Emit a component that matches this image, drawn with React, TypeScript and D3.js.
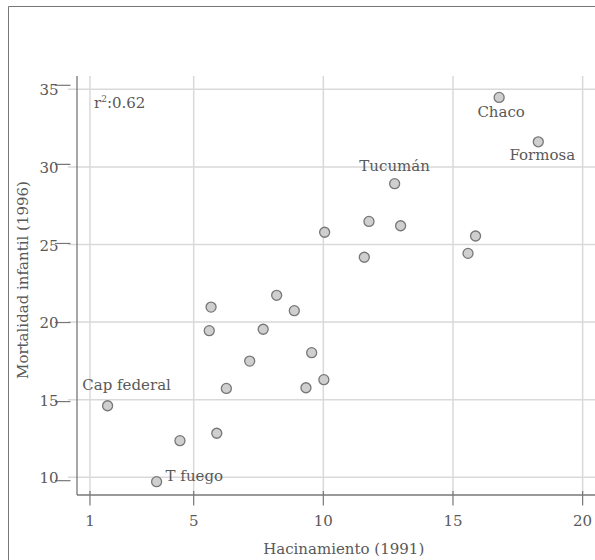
import React from "react";
import * as d3 from "d3";

// Data: Hacinamiento (1991) vs Mortalidad infantil (1996), Argentine provinces
const hacinamiento = [16.78, 18.29, 12.75, 11.76, 12.98, 10.05, 11.58, 8.2, 5.67, 8.88, 5.6, 7.68, 9.55, 7.16, 10.02, 9.33, 6.26, 5.89, 4.47, 1.68, 3.57, 15.87, 15.58];
const mortalidad = [34.48, 31.62, 28.92, 26.49, 26.21, 25.79, 24.18, 21.73, 20.97, 20.74, 19.45, 19.54, 18.03, 17.49, 16.29, 15.77, 15.73, 12.84, 12.36, 14.61, 9.72, 25.55, 24.43];
const provincias = ["Chaco", "Formosa", "Tucumán", "", "", "", "", "", "", "", "", "", "", "", "", "", "", "", "", "Cap federal", "T fuego", "", ""];
const xTicks = [1, 5, 10, 15, 20];
const yTicks = [10, 15, 20, 25, 30, 35];
const r2Label = "0.62";
const xTitle = "Hacinamiento (1991)";
const yTitle = "Mortalidad infantil (1996)";

// label placement (layout, not data)
const labelPlacement: Record<string, { dx: number; dy: number; anchor: string }> = {
  Chaco: { dx: 2, dy: 20, anchor: "middle" },
  Formosa: { dx: 4, dy: 18, anchor: "middle" },
  "Tucumán": { dx: 0, dy: -13, anchor: "middle" },
  "Cap federal": { dx: 19, dy: -16, anchor: "middle" },
  "T fuego": { dx: 9, dy: -1, anchor: "start" },
};

const FONT = "'DejaVu Serif', serif";
const TEXT = "#595959";
const AXIS = "#777";
const GRID = "#d9d9d9";

export default function App() {
  const x = d3.scaleLinear().domain([0.5, 20.5]).range([77, 595.6]);
  const y = d3.scaleLinear().domain([8.86, 35.86]).range([495, 76]);
  const yTickMark = d3.scaleLinear().domain(y.domain()).range([498.7, 71.7]);
  const [x0, x1] = x.range();
  const [yb, yt] = y.range();

  const points = hacinamiento.map((h, i) => ({ h, m: mortalidad[i], name: provincias[i] }));

  return (
    <div style={{ position: "absolute", left: 0, top: 0, width: 595, height: 560, overflow: "hidden" }}>
      <svg width={595} height={560} style={{ display: "block", fontFamily: FONT }}>
        <rect x={0} y={0} width={595} height={560} fill="#fff" />
        <path d={`M8.5,600 V6.5 H640`} fill="none" stroke={AXIS} strokeWidth={1} />
        {/* gridlines */}
        {xTicks.map((t) => (
          <line key={"gx" + t} x1={x(t)} x2={x(t)} y1={yt} y2={yb - 1} stroke={GRID} strokeWidth={1.5} />
        ))}
        {yTicks.map((t) => (
          <line key={"gy" + t} x1={68} x2={x1} y1={y(t)} y2={y(t)} stroke={GRID} strokeWidth={1.5} />
        ))}
        {/* axes */}
        <line x1={x0} x2={x0} y1={yt} y2={yb} stroke={AXIS} strokeWidth={1.3} />
        <line x1={x0} x2={x1} y1={yb} y2={yb} stroke={AXIS} strokeWidth={1.3} />
        {yTicks.map((t) => (
          <g key={"ty" + t}>
            <line x1={55} x2={70.5} y1={yTickMark(t)} y2={yTickMark(t)} stroke={AXIS} strokeWidth={1.2} />
            <text x={58.5} y={y(t) + 6} textAnchor="end" fontSize={15} fill={TEXT}>
              {t}
            </text>
          </g>
        ))}
        {xTicks.map((t) => (
          <g key={"tx" + t}>
            <line x1={x(t)} x2={x(t)} y1={491} y2={505.5} stroke={AXIS} strokeWidth={1.2} />
            <text x={x(t)} y={525.5} textAnchor="middle" fontSize={15} fill={TEXT}>
              {t}
            </text>
          </g>
        ))}
        {/* titles */}
        <text x={343.7} y={554} textAnchor="middle" fontSize={15} fill={TEXT}>
          {xTitle}
        </text>
        <text transform="translate(27.5,280) rotate(-90)" textAnchor="middle" fontSize={15} fill={TEXT}>
          {yTitle}
        </text>
        <text x={94} y={108} fontSize={15} fill={TEXT}>
          r<tspan fontSize={9} dy={-6}>2</tspan>
          <tspan dy={6}>:{r2Label}</tspan>
        </text>
        {/* points */}
        {points.map((p, i) => (
          <circle key={"p" + i} cx={x(p.h)} cy={y(p.m)} r={5} fill="#cfcfcf" stroke={AXIS} strokeWidth={1.3} />
        ))}
        {points
          .filter((p) => p.name)
          .map((p) => {
            const lp = labelPlacement[p.name] || { dx: 0, dy: -10, anchor: "middle" };
            return (
              <text key={"l" + p.name} x={x(p.h) + lp.dx} y={y(p.m) + lp.dy} textAnchor={lp.anchor} fontSize={15} fill={TEXT}>
                {p.name}
              </text>
            );
          })}
      </svg>
    </div>
  );
}
